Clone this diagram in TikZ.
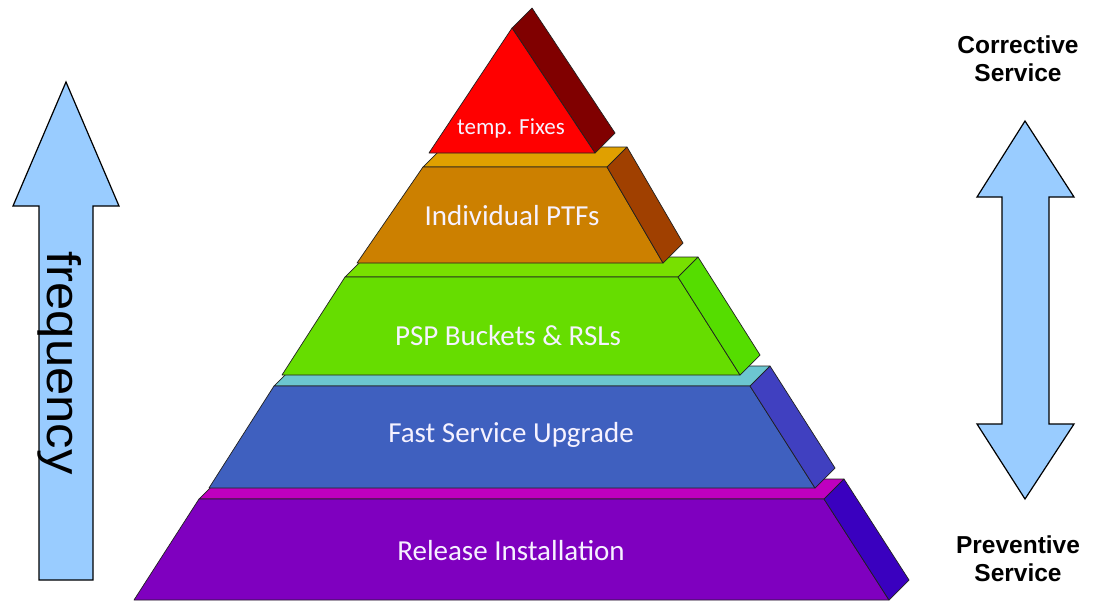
\documentclass[tikz,border=0pt]{standalone}
\usepackage{fontspec}
\setmainfont{Liberation Sans}
\newfontfamily\labelfont{Carlito}
\definecolor{magentaLedge}{HTML}{BF00BF}
\definecolor{purpleFront}{HTML}{7F00BF}
\definecolor{purpleSide}{HTML}{3A00BF}
\definecolor{cyanLedge}{HTML}{6CC6D0}
\definecolor{blueFront}{HTML}{3F60BF}
\definecolor{blueSide}{HTML}{4040C0}
\definecolor{greenLedge}{HTML}{78E000}
\definecolor{greenFront}{HTML}{66DD00}
\definecolor{greenSide}{HTML}{55DD00}
\definecolor{orangeLedge}{HTML}{E0A000}
\definecolor{orangeFront}{HTML}{CC8000}
\definecolor{orangeSide}{HTML}{A04000}
\definecolor{redFront}{HTML}{FF0000}
\definecolor{redSide}{HTML}{800000}
\definecolor{arrowBlue}{HTML}{99CCFF}
\definecolor{edgeDark}{HTML}{202020}
\definecolor{labelWhite}{HTML}{F6F2FF}
\tikzset{
  face/.style={draw=edgeDark, line width=0.7pt, line join=round},
  tierlabel/.style={text=labelWhite, font=\labelfont\fontsize{29}{34}\selectfont, inner sep=0pt},
  sidelabel/.style={font=\bfseries\fontsize{24.5}{28}\selectfont, align=center, inner sep=0pt},
  bigarrow/.style={draw=black, fill=arrowBlue, line width=1.2pt, line join=miter},
}
\begin{document}
\begin{tikzpicture}[x=1pt,y=-1pt]
\useasboundingbox (0,0) rectangle (1103,602);
\fill[white] (0,0) rectangle (1103,602);
% purple tier
\filldraw[face, fill=magentaLedge] (199,499) -- (219,479) -- (844,479) -- (824,499) -- cycle;
\filldraw[face, fill=purpleFront] (134,600) -- (199,499) -- (824,499) -- (889,600) -- cycle;
\filldraw[face, fill=purpleSide] (824,499) -- (844,479) -- (909,580) -- (889,600) -- cycle;
% blue tier
\filldraw[face, fill=cyanLedge] (274,386) -- (294,366) -- (770,366) -- (750,386) -- cycle;
\filldraw[face, fill=blueFront] (209,488) -- (274,386) -- (750,386) -- (815,488) -- cycle;
\filldraw[face, fill=blueSide] (750,386) -- (770,366) -- (835,468) -- (815,488) -- cycle;
% green tier
\filldraw[face, fill=greenLedge] (345,277) -- (365,257) -- (698,257) -- (678,277) -- cycle;
\filldraw[face, fill=greenFront] (282,375) -- (345,277) -- (678,277) -- (740,375) -- cycle;
\filldraw[face, fill=greenSide] (678,277) -- (698,257) -- (760,355) -- (740,375) -- cycle;
% orange tier
\filldraw[face, fill=orangeLedge] (423,167) -- (443,147) -- (627,147) -- (607,167) -- cycle;
\filldraw[face, fill=orangeFront] (357,263) -- (423,167) -- (607,167) -- (663,263) -- cycle;
\filldraw[face, fill=orangeSide] (607,167) -- (627,147) -- (683,243) -- (663,263) -- cycle;
% red tip
\filldraw[face, fill=redSide] (512,28) -- (532,8) -- (615,133) -- (595,153) -- cycle;
\filldraw[face, fill=redFront] (429,153) -- (512,28) -- (595,153) -- cycle;
% labels
\node[tierlabel, font=\labelfont\fontsize{23}{27}\selectfont] (fixes) at (511,128) {temp. Fixes};
\node[tierlabel] (ptf) at (512,216) {Individual PTFs};
\node[tierlabel] (psp) at (508,336) {PSP Buckets \& RSLs};
\node[tierlabel] (fsu) at (511,435) {Fast Service Upgrade};
\node[tierlabel] (rel) at (511,551) {Release Installation};
% left arrow
\filldraw[bigarrow] (66,82) -- (119,206) -- (93,206) -- (93,580) -- (39,580) -- (39,206) -- (13,206) -- cycle;
\node[rotate=-90, inner sep=0pt, font=\fontsize{47}{50}\selectfont, xscale=1.08] (freq) at (60,363) {frequency};
% right double arrow
\filldraw[bigarrow] (1025,121) -- (1074,197) -- (1049,197) -- (1049,424) -- (1074,424) -- (1025,499) -- (977,424) -- (1002,424) -- (1002,197) -- (977,197) -- cycle;
\node[sidelabel] (corr) at (1018,59) {Corrective\\Service};
\node[sidelabel] (prev) at (1018,559) {Preventive\\Service};
\end{tikzpicture}
\end{document}
